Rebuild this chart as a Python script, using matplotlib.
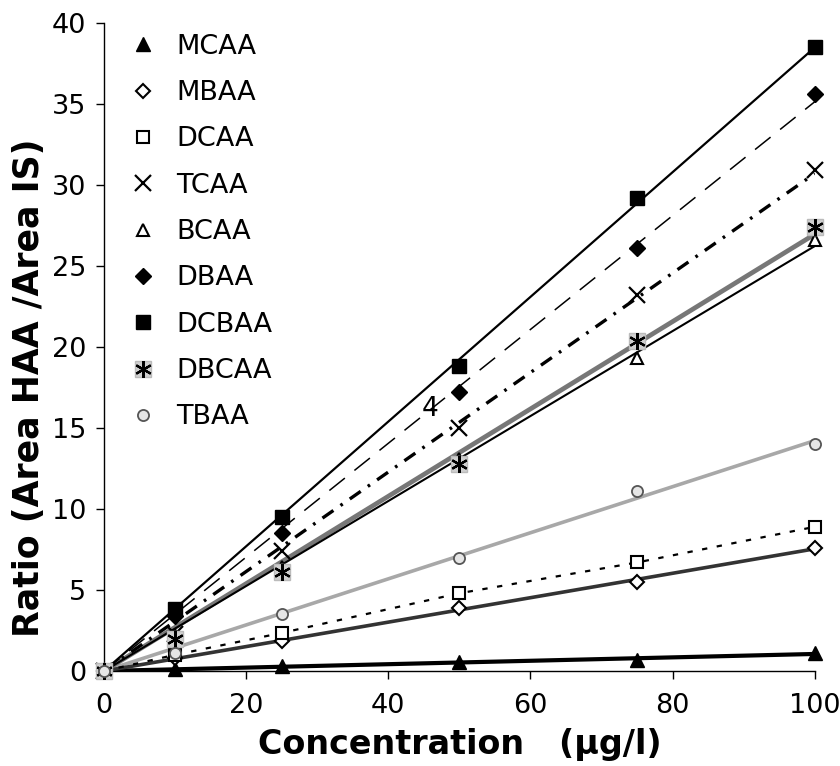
import numpy as np
import matplotlib
matplotlib.use("Agg")
import matplotlib.pyplot as plt
from matplotlib.lines import Line2D

plt.rcParams['font.family'] = ['DejaVu Sans']

conc = [0, 10, 25, 50, 75, 100]
MCAA = [0, 0.1, 0.3, 0.55, 0.7, 1.1]
MBAA = [0, 0.8, 1.85, 3.9, 5.5, 7.6]
DCAA = [0, 1.0, 2.35, 4.8, 6.7, 8.9]
TCAA = [0, 2.3, 7.4, 15.0, 23.2, 30.9]
BCAA = [0, 2.2, 6.4, 13.1, 19.3, 26.6]
DBAA = [0, 3.4, 8.5, 17.2, 26.1, 35.6]
DCBAA = [0, 3.8, 9.5, 18.8, 29.2, 38.5]
DBCAA = [0, 2.0, 6.1, 12.8, 20.4, 27.4]
TBAA = [0, 1.1, 3.5, 7.0, 11.1, 14.0]

x_ticks = [0, 20, 40, 60, 80, 100]
y_ticks = [0, 5, 10, 15, 20, 25, 30, 35, 40]

fig = plt.figure(figsize=(8.4, 7.66), dpi=100)
ax = fig.add_axes([0.1238, 0.124, 0.8462, 0.846])

x = np.array(conc, dtype=float)
xf = np.array([0.0, 100.0])

def fit(y):
    y = np.array(y, dtype=float)
    s = np.sum(x * y) / np.sum(x * x)
    return s * xf

lines = [
    (MCAA, 'black', 3.0, '-', 3),
    (MBAA, '#333333', 2.6, '-', 3),
    (TBAA, '#a8a8a8', 2.6, '-', 2),
    (DBCAA, '#777777', 3.4, '-', 2),
    (BCAA, 'black', 1.5, '-', 3),
    (TCAA, 'black', 2.4, (0, (4, 2.6, 0.8, 2.6)), 3),
    (DBAA, 'black', 1.1, (0, (13, 8)), 3),
    (DCBAA, 'black', 1.6, '-', 3),
]
for y, c, lw, ls, z in lines:
    ax.plot(xf, fit(y), color=c, lw=lw, ls=ls, zorder=z)
ax.plot(conc, DCAA, color='black', lw=1.6, ls=(0, (2.4, 4.3)), zorder=3)

ms = 9
mk = dict(ls='none', clip_on=False, zorder=5)
ax.plot(conc, MCAA, marker='^', ms=ms + 1, mfc='black', mec='black', **mk)
ax.plot(conc, MBAA, marker='D', ms=ms - 2, mfc='white', mec='black', mew=1.5, **mk)
ax.plot(conc, DCAA, marker='s', ms=ms - 1, mfc='white', mec='black', mew=1.5, **mk)
ax.plot(conc, TCAA, marker='x', ms=ms + 2, mec='black', mew=1.6, **mk)
ax.plot(conc, BCAA, marker='^', ms=ms, mfc='white', mec='black', mew=1.5, **mk)
ax.plot(conc, DBAA, marker='D', ms=ms - 1, mfc='black', mec='black', **mk)
ax.plot(conc, DCBAA, marker='s', ms=ms + 1, mfc='black', mec='black', **mk)
ax.plot(conc, DBCAA, marker='s', ms=ms + 2, mfc='#d0d0d0', mec='#bbbbbb', **mk)
ax.plot(conc, DBCAA, marker=(6, 2, 0), ms=ms + 3, mec='black', mew=1.6, **mk)
ax.plot(conc, TBAA, marker='o', ms=ms - 1, mfc='#e6e6e6', mec='#555555', mew=1.3, **mk)

ax.set_xlim(0, 100)
ax.set_ylim(0, 40)
ax.set_xticks(x_ticks)
ax.set_yticks(y_ticks)
ax.spines['top'].set_visible(False)
ax.spines['right'].set_visible(False)
ax.tick_params(direction='out', length=6, width=1, labelsize=19.5)
ax.tick_params(axis='x', pad=10)
ax.tick_params(axis='y', pad=7)
for s in ['left', 'bottom']:
    ax.spines[s].set_linewidth(1.0)

ax.set_xlabel('Concentration   (\u00b5g/l)', fontsize=24, fontweight='bold')
ax.xaxis.set_label_coords(0.5, -0.088)
ax.set_ylabel('Ratio (Area HAA /Area IS)', fontsize=25, fontweight='bold')
ax.yaxis.set_label_coords(-0.082, 0.437)

ax.text(45.9, 16.2, '4', fontsize=19, ha='center', va='center', zorder=6)

handles = [
    Line2D([], [], ls='none', marker='^', ms=ms + 1, mfc='black', mec='black'),
    Line2D([], [], ls='none', marker='D', ms=ms - 2, mfc='white', mec='black', mew=1.5),
    Line2D([], [], ls='none', marker='s', ms=ms - 1, mfc='white', mec='black', mew=1.5),
    Line2D([], [], ls='none', marker='x', ms=ms + 2, mec='black', mew=1.6),
    Line2D([], [], ls='none', marker='^', ms=ms, mfc='white', mec='black', mew=1.5),
    Line2D([], [], ls='none', marker='D', ms=ms - 1, mfc='black', mec='black'),
    Line2D([], [], ls='none', marker='s', ms=ms + 1, mfc='black', mec='black'),
    (Line2D([], [], ls='none', marker='s', ms=ms + 2, mfc='#d0d0d0', mec='#bbbbbb'),
     Line2D([], [], ls='none', marker=(6, 2, 0), ms=ms + 3, mec='black', mew=1.6)),
    Line2D([], [], ls='none', marker='o', ms=ms - 1, mfc='#e6e6e6', mec='#555555', mew=1.3),
]
labels = ['MCAA', 'MBAA', 'DCAA', 'TCAA', 'BCAA', 'DBAA', 'DCBAA', 'DBCAA', 'TBAA']
ax.legend(handles, labels, loc='upper left', bbox_to_anchor=(0.024, 1.0),
          frameon=False, fontsize=19.5, handlelength=0.8, handletextpad=0.85,
          labelspacing=0.75, borderaxespad=0)

fig.savefig('out.png', dpi=100)
